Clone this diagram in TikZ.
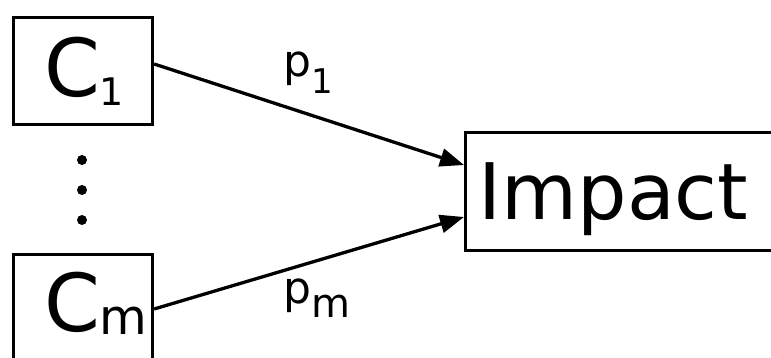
\documentclass[tikz,border=0pt]{standalone}
\usepackage{fontspec}
\setmainfont{DejaVu Sans}
\usetikzlibrary{arrows.meta}
\begin{document}
\begin{tikzpicture}[x=1pt,y=-1pt,
  box/.style={draw, line width=3.3pt, inner ysep=0pt, align=left, text depth=0pt},
  conn/.style={line width=3.3pt, -{Triangle[length=24pt,width=18pt]}},
  dotnode/.style={circle, fill, inner sep=0pt, minimum size=10pt},
  lbl/.style={anchor=base west, inner sep=0pt}]
\useasboundingbox (0,0) rectangle (771,358);
\node[box, text width=78pt, inner xsep=30.5pt, minimum height=107pt, text height=52pt] (c1) at (83,71)
  {\fontsize{80}{80}\selectfont C\raisebox{-9pt}{\fontsize{38}{38}\selectfont 1}};
\node[box, text width=78pt, inner xsep=30.5pt, minimum height=107pt, text height=46pt] (cm) at (83,308)
  {\fontsize{80}{80}\selectfont C\raisebox{-3pt}{\fontsize{49}{49}\selectfont m}};
\node[box, anchor=west, text width=300pt, inner xsep=13pt, minimum height=118pt, text height=55pt] (imp) at (464,191.5)
  {\fontsize{78}{78}\selectfont Impact};
\node[dotnode] (d1) at (82,160) {};
\node[dotnode] (d2) at (82,190) {};
\node[dotnode] (d3) at (82,220) {};
\draw[conn] ([yshift=7pt]c1.east) -- ([yshift=26.5pt]imp.west);
\draw[conn] ([yshift=-1pt]cm.east) -- ([yshift=-25.5pt]imp.west);
\node[lbl] (p1) at (283,77) {\fontsize{44}{44}\selectfont p\raisebox{-17pt}{\fontsize{34}{34}\selectfont 1}};
\node[lbl] (pm) at (283,303) {\fontsize{44}{44}\selectfont p\raisebox{-14pt}{\fontsize{40}{40}\selectfont m}};
\end{tikzpicture}
\end{document}
